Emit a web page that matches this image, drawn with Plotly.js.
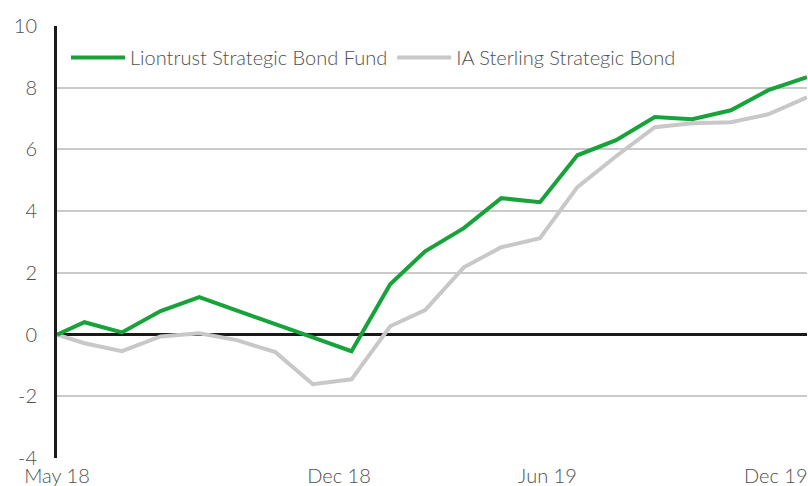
<!DOCTYPE html>
<html>
<head>
<meta charset="utf-8">
<script src="https://cdn.plot.ly/plotly-3.0.1.min.js"></script>
<style>
  html, body { margin: 0; padding: 0; background: #ffffff; }
  #chart { width: 808px; height: 486px; }
</style>
</head>
<body>
<div id="chart"></div>
<script>
// Data (cumulative performance, %)
var dates = ['2018-05-09','2018-05-31','2018-06-30','2018-07-31','2018-08-31','2018-09-30','2018-10-31',
             '2018-11-30','2018-12-31','2019-01-31','2019-02-28','2019-03-31','2019-04-30','2019-05-31',
             '2019-06-30','2019-07-31','2019-08-31','2019-09-30','2019-10-31','2019-11-30','2019-12-31'];
var fundName = 'Liontrust Strategic Bond Fund';
var sectorName = 'IA Sterling Strategic Bond';
var fundValues = [0, 0.40, 0.07, 0.76, 1.21, 0.79, 0.33, -0.09, -0.54, 1.63, 2.70, 3.45, 4.42, 4.29,
                  5.81, 6.30, 7.05, 6.98, 7.27, 7.92, 8.34];
var sectorValues = [0, -0.28, -0.54, -0.06, 0.04, -0.18, -0.57, -1.61, -1.45, 0.27, 0.79, 2.18, 2.83, 3.12,
                    4.78, 5.78, 6.72, 6.85, 6.88, 7.14, 7.69];
var xTickVals = ['2018-05-09', '2018-12-21', '2019-06-06', '2019-12-06'];
var xTickText = ['May 18', 'Dec 18', 'Jun 19', 'Dec 19'];
var yTickVals = [-4, -2, 0, 2, 4, 6, 8, 10];
var yTickText = ['-4', '-2', '0', '2', '4', '6', '8', '10'];

var FONT = 'Lato, "Open Sans", "DejaVu Sans", sans-serif';
var TEXT = '#505050';
var FS = 20;

var traces = [
  {
    x: dates, y: sectorValues, name: sectorName, type: 'scatter', mode: 'lines',
    line: { color: '#c8c8c8', width: 4 }, legendrank: 2
  },
  {
    x: dates, y: fundValues, name: fundName, type: 'scatter', mode: 'lines',
    line: { color: '#17a33a', width: 4 }, legendrank: 1
  }
];

var layout = {
  width: 808, height: 486,
  margin: { l: 57, r: 1, t: 26, b: 28, pad: 0 },
  paper_bgcolor: '#ffffff', plot_bgcolor: '#ffffff',
  font: { family: FONT, size: FS, color: TEXT, weight: 300 },
  showlegend: true,
  legend: {
    orientation: 'h', x: 0.012, y: 0.972, xanchor: 'left', yanchor: 'top',
    bgcolor: 'rgba(0,0,0,0)', font: { family: FONT, size: FS, color: TEXT, weight: 300 },
    itemwidth: 54, tracegroupgap: 0
  },
  xaxis: {
    type: 'date', range: ['2018-05-09', '2019-12-31'],
    tickvals: xTickVals, ticktext: xTickText, ticks: '',
    ticklabeloverflow: 'allow', ticklabelstandoff: 4,
    showgrid: false, zeroline: false, showline: false,
    tickfont: { family: FONT, size: FS, color: TEXT, weight: 300 },
    fixedrange: true
  },
  yaxis: {
    range: [-4, 10], tickvals: yTickVals, ticktext: yTickText, ticks: '',
    showgrid: true, gridcolor: '#cacaca', gridwidth: 2,
    zeroline: true, zerolinecolor: '#1a1a1a', zerolinewidth: 3,
    showline: true, linecolor: '#1a1a1a', linewidth: 3,
    ticklabelstandoff: 13,
    tickfont: { family: FONT, size: FS, color: TEXT, weight: 300 },
    fixedrange: true
  }
};

Plotly.newPlot('chart', traces, layout, { displayModeBar: false, staticPlot: true });
</script>
</body>
</html>
